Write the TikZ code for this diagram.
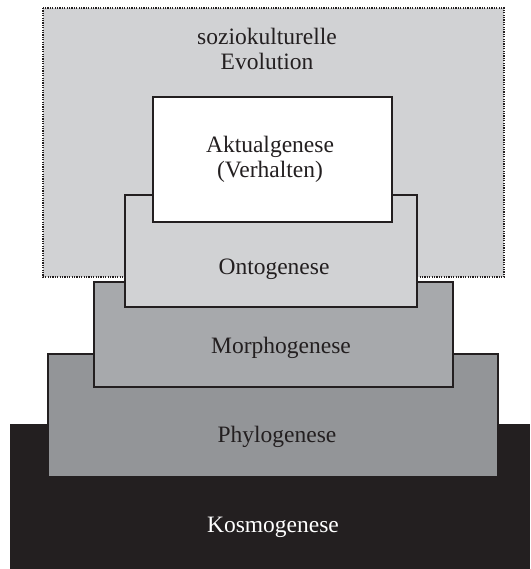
\documentclass[tikz,border=0pt]{standalone}
\usepackage{fontspec}
\setmainfont{Liberation Serif}
\definecolor{lightgr}{HTML}{D1D2D4}
\definecolor{midgr}{HTML}{A7A9AC}
\definecolor{darkgr}{HTML}{939598}
\definecolor{nearblack}{HTML}{231F20}
\begin{document}
\begin{tikzpicture}[x=1pt,y=-1pt,
  layer/.style={draw=nearblack,line width=2pt},
  lbl/.style={anchor=base,inner sep=0pt,text=nearblack,font=\fontsize{23.5}{26}\selectfont}]
\useasboundingbox (0,0) rectangle (530,569);
\path[fill=nearblack] (10,424) rectangle (530,569);
\coordinate (kosmo) at (270,496);
\draw[layer,fill=darkgr] (48,354) rectangle (498,477);
\draw[layer,fill=midgr] (94,282) rectangle (453,387);
\draw[fill=lightgr,draw=nearblack,line width=2pt,dash pattern=on 1.2pt off 1.2pt] (43,8) rectangle (504,277);
\draw[layer,fill=lightgr] (125,195) rectangle (417,307);
\draw[layer,fill=white] (153,97) rectangle (392,222);
\node[lbl] (evo1) at (267,45) {soziokulturelle};
\node[lbl] (evo2) at (267,70) {Evolution};
\node[lbl] (akt1) at (270,153) {Aktualgenese};
\node[lbl] (akt2) at (270,178) {(Verhalten)};
\node[lbl] (onto) at (274,274) {Ontogenese};
\node[lbl] (morph) at (281,353) {Morphogenese};
\node[lbl] (phylo) at (277,442) {Phylogenese};
\node[lbl,text=white] (kosmolbl) at (273,532) {Kosmogenese};
\end{tikzpicture}
\end{document}
